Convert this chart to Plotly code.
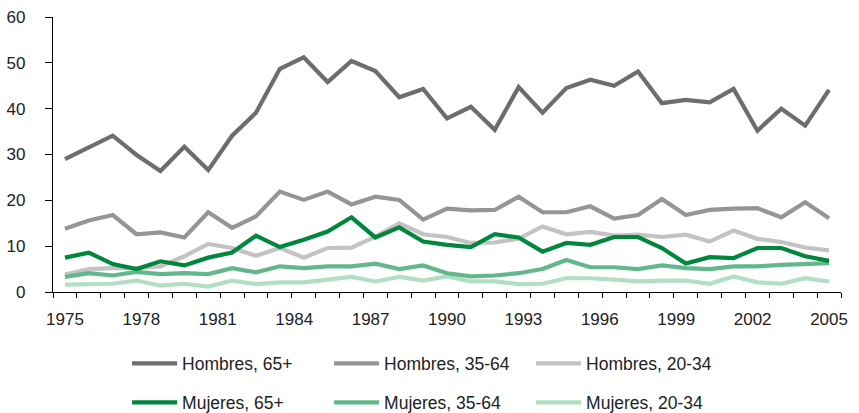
import plotly.graph_objects as go

# Tick labels shown on the x axis (evenly spread over the 33 observations)
year_labels = ["1975", "1978", "1981", "1984", "1987", "1990", "1993",
               "1996", "1999", "2002", "2005"]

hombres_65 = [29.0, 31.6, 34.1, 29.9, 26.4, 31.7, 26.6, 34.1, 39.1, 48.7, 51.2,
              45.8, 50.4, 48.2, 42.5, 44.3, 37.9, 40.4, 35.4, 44.7, 39.1, 44.5,
              46.3, 45.0, 48.1, 41.2, 41.9, 41.4, 44.3, 35.2, 40.0, 36.3, 44.1]
hombres_35_64 = [13.8, 15.6, 16.8, 12.6, 13.0, 11.9, 17.4, 14.0, 16.5, 21.9, 20.1,
                 21.9, 19.1, 20.8, 20.1, 15.8, 18.2, 17.8, 17.9, 20.8, 17.4, 17.4,
                 18.7, 16.0, 16.8, 20.3, 16.8, 17.9, 18.2, 18.3, 16.3, 19.6, 16.1]
hombres_20_34 = [3.8, 5.0, 5.2, 5.2, 5.6, 7.8, 10.5, 9.6, 7.9, 9.6, 7.5,
                 9.6, 9.7, 12.1, 15.0, 12.6, 12.0, 10.7, 10.8, 11.6, 14.3, 12.6,
                 13.1, 12.3, 12.5, 12.0, 12.5, 11.0, 13.4, 11.6, 10.9, 9.7, 9.1]
mujeres_65 = [7.5, 8.6, 6.1, 5.0, 6.7, 5.8, 7.5, 8.6, 12.3, 9.8, 11.4,
              13.2, 16.3, 11.9, 14.1, 11.0, 10.3, 9.8, 12.6, 11.9, 8.8, 10.7,
              10.3, 12.0, 12.0, 9.6, 6.2, 7.6, 7.4, 9.6, 9.6, 7.8, 6.8]
mujeres_35_64 = [3.3, 4.1, 3.6, 4.4, 3.9, 4.1, 3.9, 5.2, 4.3, 5.6, 5.2,
                 5.6, 5.6, 6.2, 5.0, 5.8, 4.1, 3.4, 3.6, 4.1, 5.0, 7.0,
                 5.4, 5.4, 5.0, 5.8, 5.2, 5.0, 5.6, 5.6, 5.9, 6.2, 6.3]
mujeres_20_34 = [1.6, 1.8, 1.8, 2.5, 1.4, 1.8, 1.2, 2.5, 1.7, 2.1, 2.1,
                 2.7, 3.3, 2.3, 3.3, 2.5, 3.4, 2.3, 2.3, 1.7, 1.8, 3.0,
                 3.0, 2.7, 2.3, 2.5, 2.5, 1.8, 3.4, 2.1, 1.8, 3.0, 2.3]

series = [
    ("Hombres, 65+", hombres_65, "#6d6d6f", "legend"),
    ("Hombres, 35-64", hombres_35_64, "#959597", "legend"),
    ("Hombres, 20-34", hombres_20_34, "#c3c3c5", "legend"),
    ("Mujeres, 65+", mujeres_65, "#00873d", "legend2"),
    ("Mujeres, 35-64", mujeres_35_64, "#62b78c", "legend2"),
    ("Mujeres, 20-34", mujeres_20_34, "#b2dec4", "legend2"),
]

n = len(hombres_65)
x_idx = list(range(n))
label_pos = [i * (n - 1) / (len(year_labels) - 1) for i in range(len(year_labels))]
boundaries = [i - 0.5 for i in range(n + 1)]

FONT = "Liberation Sans, Arial, sans-serif"
TXT = "#222222"

fig = go.Figure()
traces = {}
for name, vals, color, leg in series:
    traces[name] = go.Scatter(x=x_idx, y=vals, mode="lines", name=name,
                              line=dict(color=color, width=4.2),
                              legend=leg, hoverinfo="skip")
draw_order = ["Mujeres, 20-34", "Hombres, 20-34", "Mujeres, 35-64",
              "Hombres, 35-64", "Hombres, 65+", "Mujeres, 65+"]
legend_rank = {s[0]: i for i, s in enumerate(series)}
for nm in draw_order:
    t = traces[nm]
    t.legendrank = legend_rank[nm] + 1
    fig.add_trace(t)

# invisible helper trace carrying the label axis
fig.add_trace(go.Scatter(x=[x_idx[0], x_idx[-1]], y=[None, None], xaxis="x2",
                         mode="lines", showlegend=False, hoverinfo="skip"))

fig.update_layout(
    width=859, height=413,
    margin=dict(l=53, r=18, t=17, b=121, autoexpand=False),
    paper_bgcolor="white", plot_bgcolor="white",
    font=dict(family=FONT, size=17, color=TXT),
    xaxis=dict(
        range=[-0.5, n - 0.5],
        tickmode="array", tickvals=boundaries,
        ticktext=["" for _ in boundaries],
        ticks="outside", ticklen=5, tickcolor="black", tickwidth=1.2,
        showgrid=False, zeroline=False,
        showline=True, linecolor="black", linewidth=1.3,
    ),
    xaxis2=dict(
        range=[-0.5, n - 0.5], overlaying="x", side="bottom", anchor="y",
        tickmode="array", tickvals=label_pos, ticktext=year_labels,
        ticks="", showgrid=False, zeroline=False, showline=False,
        ticklabelstandoff=15,
        tickfont=dict(size=17, color=TXT),
    ),
    yaxis=dict(
        range=[0, 60], tickmode="linear", tick0=0, dtick=10,
        ticks="outside", ticklen=7, tickcolor="black", tickwidth=1.2,
        showgrid=False, zeroline=False,
        showline=True, linecolor="black", linewidth=1.3,
        ticklabelstandoff=16,
        tickfont=dict(size=17, color=TXT),
    ),
    legend=dict(orientation="h", x=0.094, xanchor="left",
                y=-0.26, yanchor="middle", itemwidth=45,
                entrywidth=142, font=dict(size=17.5, color=TXT),
                bgcolor="rgba(0,0,0,0)", traceorder="normal"),
    legend2=dict(orientation="h", x=0.094, xanchor="left",
                 y=-0.402, yanchor="middle", itemwidth=45,
                 entrywidth=142, font=dict(size=17.5, color=TXT),
                 bgcolor="rgba(0,0,0,0)", traceorder="normal"),
    showlegend=True,
)

fig.write_html("out.html",
               config={"displayModeBar": False},
               post_script="document.body.style.margin='0';"
                           "document.body.style.padding='0';")
